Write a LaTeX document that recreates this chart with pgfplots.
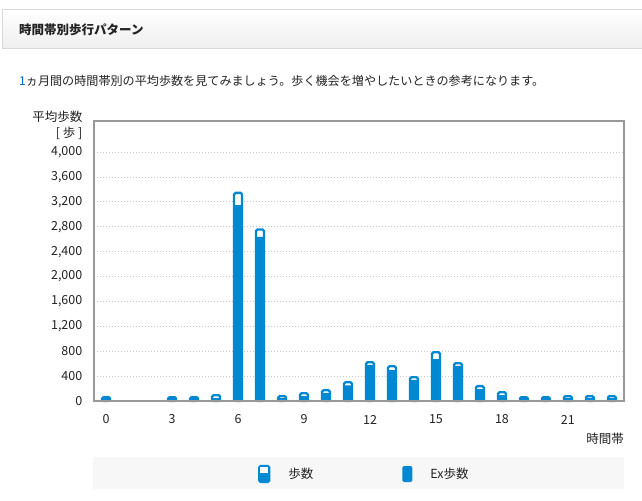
\documentclass[border=0pt]{standalone}
\usepackage{fontspec}
\setmainfont{Noto Sans CJK JP}
\usepackage{pgfplots}
\usepackage{pgfplotstable}
\pgfplotsset{compat=1.18}

\definecolor{barblue}{RGB}{0,137,210}
\definecolor{numblue}{RGB}{0,102,204}
\definecolor{framegray}{RGB}{153,153,153}
\definecolor{gridgray}{RGB}{200,200,200}
\definecolor{txt}{RGB}{34,34,34}
\definecolor{legbg}{RGB}{247,247,247}
\definecolor{hdrline}{RGB}{216,216,216}
\definecolor{hdrbot}{RGB}{238,238,238}

% hour, average steps, Ex steps
\pgfplotstableread{
hour total ex
0  62   62
3  62   62
4  62   62
5  94   48
6  3345 3150
7  2757 2636
8  78   48
9  126  80
10 174  129
11 303  252
12 624  579
13 560  498
14 383  338
15 785  675
16 608  563
17 239  193
18 142  96
19 62   62
20 62   62
21 78   48
22 78   48
23 78   48
}\steps

\begin{document}
\begin{tikzpicture}[font=\fontsize{12.5bp}{15bp}\selectfont, text=txt]
\begin{scope}[x=1bp, y=1bp]
\path[use as bounding box] (0,0) rectangle (642,-501);
% header
\shade[top color=white, bottom color=hdrbot] (2,-10) rectangle (650,-49);
\draw[hdrline, line width=1bp] (650,-10) -- (2,-10) -- (2,-49) -- (650,-49);
\node[anchor=west, inner sep=0pt, font=\fontsize{12.5bp}{15bp}\selectfont\bfseries] at (19,-30) {時間帯別歩行パターン};
\node[anchor=west, inner sep=0pt, font=\fontsize{12.1bp}{15bp}\selectfont] at (19,-81) {{\color{numblue}1}ヵ月間の時間帯別の平均歩数を見てみましょう。歩く機会を増やしたいときの参考になります。};
% legend background
\fill[legbg] (93,-457) rectangle (624,-489);
\node[anchor=east, inner sep=0pt] at (82.5,-117) {平均歩数};
\node[anchor=east, inner sep=0pt] at (82.5,-133) {[ 歩 ]};
\node[anchor=east, inner sep=0pt] at (624,-439) {時間帯};
\end{scope}

\begin{axis}[
    at={(94bp,-401bp)}, anchor=south west,
    scale only axis, width=530bp, height=280bp,
    xmin=-0.55, xmax=23.55,
    ymin=0, ymax=4500,
    xtick={0,3,...,21},
    ytick={0,400,...,4000},
    major tick length=0pt,
    scaled y ticks=false,
    /pgf/number format/assume math mode=true,
    /pgf/number format/1000 sep={,},
    tick label style={font=\fontsize{12.5bp}{15bp}\selectfont, text=txt},
    xticklabel style={anchor=center, inner sep=0pt, yshift=-18.5bp},
    yticklabel style={anchor=east, inner sep=0pt, xshift=-11.5bp},
    ymajorgrids,
    grid style={gridgray, line width=0.8bp, dash pattern=on 1bp off 2bp},
    axis line style={draw=none},
    clip=false,
    ybar, bar width=8bp,
    legend columns=2,
    legend style={
        at={(0.3094,-0.2607)}, anchor=west,
        draw=none, fill=none, inner sep=0pt,
        nodes={inner sep=0pt, text=txt},
        font=\fontsize{12.5bp}{15bp}\selectfont,
        /tikz/every odd column/.append style={column sep=18bp},
        /tikz/every even column/.append style={column sep=89bp}
    },
]
\addplot[bar shift=0pt, fill=white, draw=barblue, line width=2.3bp, rounded corners=1.5bp,
    legend image code/.code={
        \fill[barblue, rounded corners=1.5bp] (0bp,-8bp) rectangle (10bp,8bp);
        \fill[white, sharp corners] (2.3bp,2bp) rectangle (7.7bp,6.3bp);
    }] table[x=hour, y=total] {\steps};
\addlegendentry{歩数}
\addplot[bar shift=0pt, fill=barblue, draw=none,
    legend image code/.code={
        \fill[barblue, rounded corners=1.5bp] (0bp,-8bp) rectangle (10bp,8bp);
    }] table[x=hour, y=ex] {\steps};
\addlegendentry{Ex歩数}
\draw[framegray, line width=2bp] (rel axis cs:0,0) rectangle (rel axis cs:1,1);
\end{axis}
\end{tikzpicture}
\end{document}
